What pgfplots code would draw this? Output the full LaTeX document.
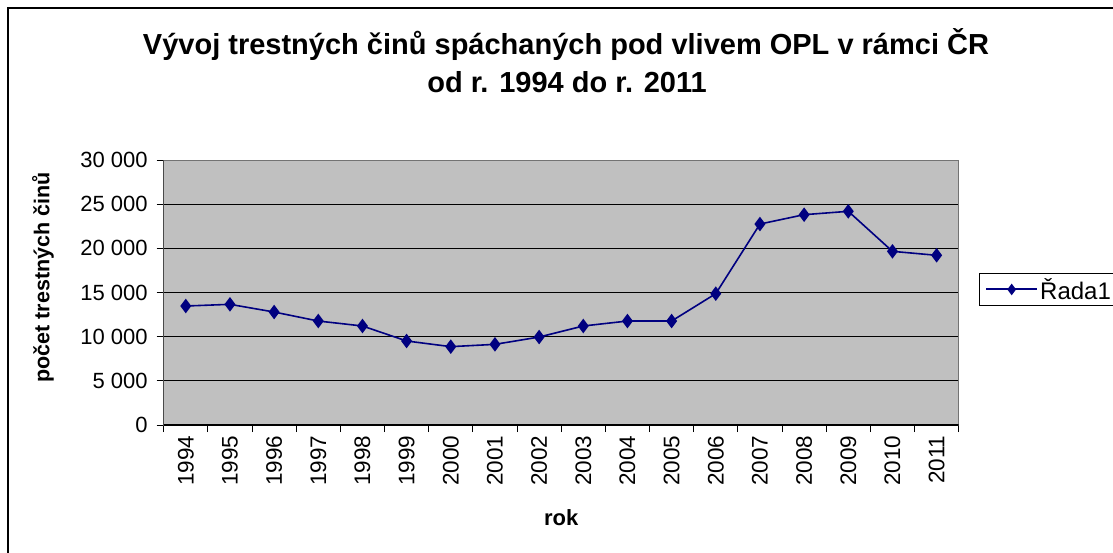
\documentclass[border=0pt]{standalone}
\usepackage{pgfplots}
\pgfplotsset{compat=1.18}
\usepackage{fontspec}
\setmainfont{Liberation Sans}
\definecolor{navyc}{HTML}{000080}
\definecolor{plotgray}{HTML}{C0C0C0}
\begin{document}
\begin{tikzpicture}[x=1pt,y=1pt]
\path[use as bounding box] (0,0) rectangle (1113,-553);
\draw[line width=2pt] (7.5,-553) -- (7.5,-8) -- (1113,-8);
\node[anchor=base,font=\fontsize{29}{34}\selectfont\bfseries] at (566,-55)
  {Vývoj trestných činů spáchaných pod vlivem OPL v rámci ČR};
\node[anchor=base,font=\fontsize{29}{34}\selectfont\bfseries] at (567,-93)
  {od r. 1994 do r. 2011};
\begin{axis}[
  at={(163.7pt,-425pt)}, anchor=south west,
  scale only axis, width=795pt, height=265pt,
  xmin=-0.5, xmax=17.5, ymin=0, ymax=30000,
  axis background/.style={fill=plotgray},
  axis line style={draw=gray!90!black, line width=1pt},
  xtick={0,...,17},
  xticklabels={1994,1995,1996,1997,1998,1999,2000,2001,2002,2003,2004,2005,2006,2007,2008,2009,2010,2011},
  x tick label style={rotate=90, anchor=east, font=\fontsize{22.5}{26}\selectfont},
  major x tick style={draw=none},
  minor xtick={-0.5,0.5,...,17.5},
  minor x tick style={black, line width=1pt},
  minor tick length=7pt,
  ytick={0,5000,...,30000},
  y tick label style={font=\fontsize{22}{26}\selectfont, xshift=-5.5pt},
  ytick style={black, line width=1pt},
  major tick length=7pt,
  tick align=outside,
  xtick pos=bottom, ytick pos=left,
  ymajorgrids, grid style={black, line width=1pt},
  scaled y ticks=false,
  /pgf/number format/.cd, 1000 sep={\ }, assume math mode=true,
  /pgfplots/.cd,
  ylabel={\bfseries počet trestných činů},
  ylabel style={font=\fontsize{21.5}{25}\selectfont, at={(-0.1518,0.557)}, anchor=center},
  xlabel={\bfseries rok},
  xlabel style={font=\fontsize{22}{26}\selectfont, at={(0.5,-0.351)}, anchor=center},
  legend style={at={(1.0255,0.5736)}, anchor=north west, draw=black, fill=white,
    font=\fontsize{24}{28}\selectfont, inner xsep=6pt, inner ysep=3pt},
  legend cell align=left,
  legend image code/.code={%
    \draw[navyc, line width=2pt] (0pt,0pt) -- (51pt,0pt);
    \draw[mark repeat=2,mark phase=2,#1,draw=none,mark size=4.5pt] plot coordinates {(0pt,0pt)(25.5pt,0pt)(51pt,0pt)};},
]
\addplot[navyc, line width=1.6pt, mark=diamond*, mark size=6pt, mark options={fill=navyc, draw=navyc}]
coordinates {
(0,13470) (1,13660) (2,12790) (3,11770) (4,11210) (5,9510) (6,8870) (7,9130) (8,9960)
(9,11210) (10,11770) (11,11770) (12,14870) (13,22750) (14,23810) (15,24190) (16,19660) (17,19210)
};
\addlegendentry{Řada1}
\draw[black, line width=1.2pt] (rel axis cs:0,1) -- (rel axis cs:0,0) -- (rel axis cs:1,0);
\end{axis}
\end{tikzpicture}
\end{document}
